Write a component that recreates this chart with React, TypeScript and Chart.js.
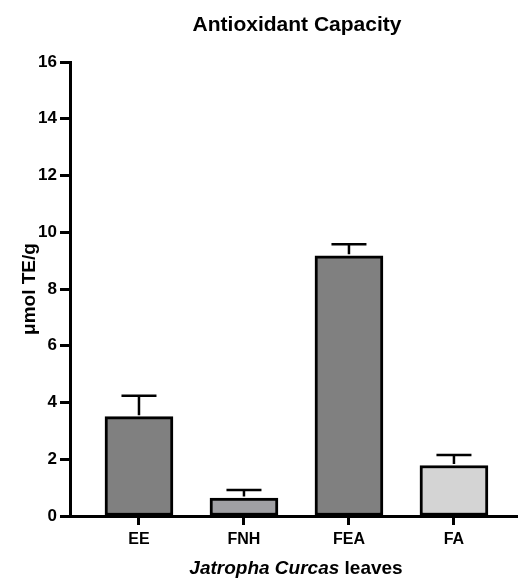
import React, { useEffect, useRef } from "react";
import { Chart, registerables } from "chart.js";

Chart.register(...registerables);

const categories = ["EE", "FNH", "FEA", "FA"];
const values = [3.5, 0.63, 9.17, 1.78];
const errors = [0.74, 0.29, 0.41, 0.37];
const barColors = ["#808080", "#a0a0a4", "#808080", "#d4d4d4"];
const yTicks = [0, 2, 4, 6, 8, 10, 12, 14, 16];
const chartTitle = "Antioxidant Capacity";
const yTitle = "μmol TE/g";
const xTitleItalic = "Jatropha Curcas";
const xTitleRegular = " leaves";

const FONT = "'Liberation Sans', Arial, sans-serif";

const overlayPlugin = {
  id: "overlay",
  afterDatasetsDraw(chart: any) {
    const ctx = chart.ctx;
    const xs = chart.scales.x;
    const ys = chart.scales.y;
    ctx.save();
    ctx.strokeStyle = "#000";
    ctx.lineWidth = 2.5;
    values.forEach((v, i) => {
      const x = xs.getPixelForValue(i);
      const y0 = ys.getPixelForValue(v);
      const y1 = ys.getPixelForValue(v + errors[i]);
      ctx.beginPath();
      ctx.moveTo(x, y0 - 1.5);
      ctx.lineTo(x, y1);
      ctx.moveTo(x - 17.5, y1);
      ctx.lineTo(x + 17.5, y1);
      ctx.stroke();
    });
    ctx.restore();
  },
  afterDraw(chart: any) {
    const ctx = chart.ctx;
    const area = chart.chartArea;
    ctx.save();
    ctx.fillStyle = "#000";
    ctx.font = `bold 21px ${FONT}`;
    ctx.textAlign = "center";
    ctx.textBaseline = "alphabetic";
    ctx.fillText(chartTitle, 297, 31);
    ctx.font = `italic bold 19px ${FONT}`;
    const w1 = ctx.measureText(xTitleItalic).width;
    ctx.font = `bold 19px ${FONT}`;
    const w2 = ctx.measureText(xTitleRegular).width;
    const cx = 296;
    const sx = cx - (w1 + w2) / 2;
    ctx.textAlign = "left";
    ctx.font = `italic bold 19px ${FONT}`;
    ctx.fillText(xTitleItalic, sx, 574);
    ctx.font = `bold 19px ${FONT}`;
    ctx.fillText(xTitleRegular, sx + w1, 574);
    ctx.translate(35, 289);
    ctx.rotate(-Math.PI / 2);
    ctx.textAlign = "center";
    ctx.font = `bold 19px ${FONT}`;
    ctx.fillText(yTitle, 0, 0);
    ctx.restore();
  },
};

export default function App() {
  const ref = useRef<HTMLCanvasElement | null>(null);
  useEffect(() => {
    if (!ref.current) return;
    const chart = new Chart(ref.current, {
      type: "bar",
      data: {
        datasets: [
          {
            data: values.map((v, i) => ({ x: i, y: v })),
            backgroundColor: barColors,
            borderColor: "#000",
            borderWidth: 3,
            borderSkipped: false,
            barThickness: 68,
          },
        ],
      },
      options: {
        responsive: false,
        animation: false,
        layout: { padding: { top: 62, left: 0, right: 0, bottom: 0 } },
        plugins: {
          legend: { display: false },
          tooltip: { enabled: false },
          title: { display: false },
        },
        scales: {
          x: {
            type: "linear",
            min: -0.657,
            max: 3.61,
            offset: false,
            afterBuildTicks: (scale: any) => {
              scale.ticks = categories.map((_, i) => ({ value: i }));
            },
            afterFit: (scale: any) => {
              scale.height = 62;
            },
            ticks: {
              autoSkip: false,
              maxRotation: 0,
              padding: 5,
              color: "#000",
              font: { family: FONT, size: 16, weight: "bold" },
              callback: (v: any) => categories[v as number] ?? "",
            },
            grid: {
              offset: false,
              drawOnChartArea: false,
              drawTicks: true,
              tickLength: 9,
              tickWidth: 3,
              tickColor: "#000",
            },
            border: { display: true, color: "#000", width: 3 },
          },
          y: {
            min: 0,
            max: 16,
            afterBuildTicks: (scale: any) => {
              scale.ticks = yTicks.map((v) => ({ value: v }));
            },
            afterFit: (scale: any) => {
              scale.width = 70;
            },
            ticks: {
              padding: 3,
              color: "#000",
              font: { family: FONT, size: 17, weight: "bold" },
            },
            grid: {
              drawOnChartArea: false,
              drawTicks: true,
              tickLength: 10,
              tickWidth: 3,
              tickColor: "#000",
            },
            border: { display: true, color: "#000", width: 3 },
          },
        },
      },
      plugins: [overlayPlugin],
    } as any);
    return () => chart.destroy();
  }, []);
  return (
    <div style={{ position: "absolute", left: 0, top: 0, width: 518, height: 578, background: "#fff" }}>
      <canvas ref={ref} width={518} height={578} />
    </div>
  );
}
